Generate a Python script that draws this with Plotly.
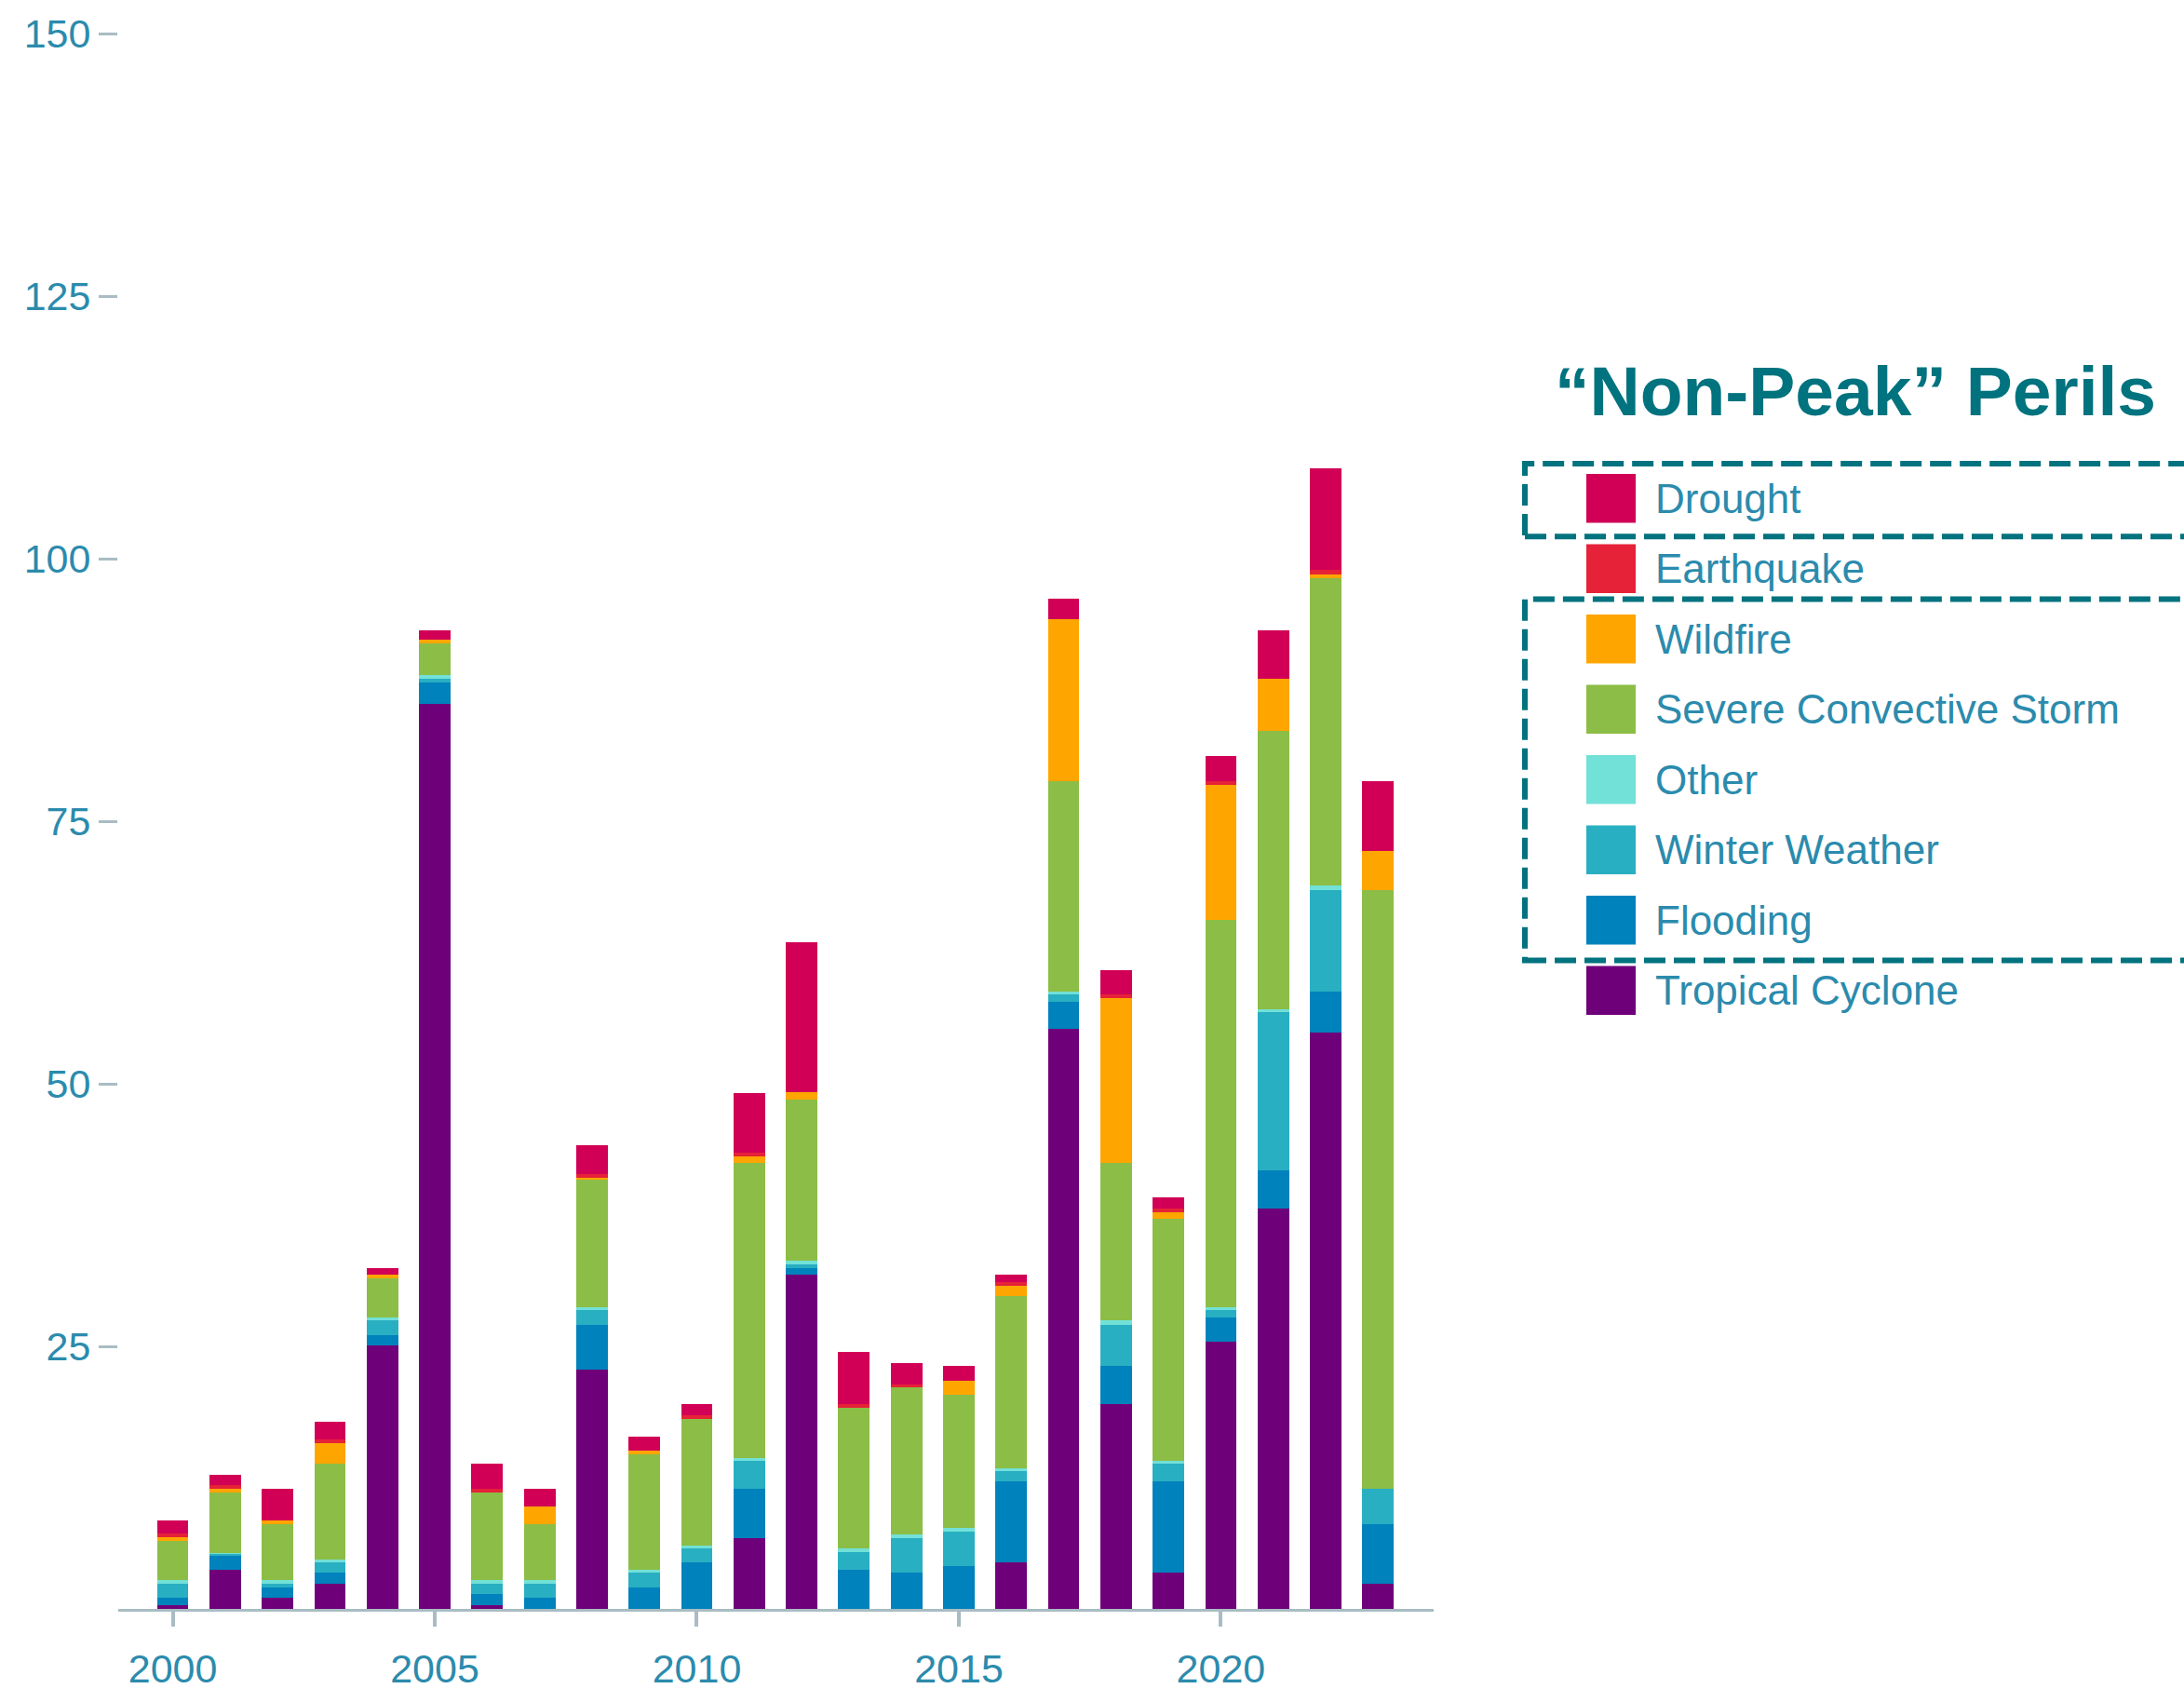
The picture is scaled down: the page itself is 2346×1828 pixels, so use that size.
import plotly.graph_objects as go

years = list(range(2000, 2024))

tropical_cyclone = [0.37, 3.70, 1.06, 2.40, 25.08, 86.2, 0.37, 0.0, 22.8, 0.0, 0.0, 6.75,
                    31.79, 0.0, 0.0, 0.0, 4.39, 55.2, 19.47, 3.46, 25.41, 38.13, 54.84, 2.40]
flooding = [0.69, 1.42, 1.02, 1.06, 1.02, 2.0, 1.06, 1.06, 4.27, 2.03, 4.39, 4.67,
            0.65, 3.70, 3.46, 4.07, 7.72, 2.6, 3.66, 8.66, 2.36, 3.66, 3.93, 5.69]
winter_weather = [1.34, 0.12, 0.33, 0.93, 1.34, 0.35, 0.98, 1.34, 1.42, 1.42, 1.34, 2.68,
                  0.33, 1.67, 3.29, 3.33, 0.98, 0.73, 3.94, 1.67, 0.73, 15.08, 9.71, 3.33]
other = [0.33, 0.12, 0.33, 0.33, 0.33, 0.35, 0.33, 0.33, 0.24, 0.24, 0.33, 0.28,
         0.37, 0.37, 0.37, 0.33, 0.33, 0.29, 0.37, 0.33, 0.24, 0.24, 0.37, 0.0]
severe_convective_storm = [3.74, 5.73, 5.37, 9.07, 3.70, 3.0, 8.37, 5.37, 12.11, 11.06, 11.99, 28.09,
                           15.33, 13.37, 14.02, 12.68, 16.38, 20.0, 15.04, 23.05, 36.82, 26.50, 29.31, 57.06]
wildfire = [0.33, 0.33, 0.33, 1.99, 0.33, 0.35, 0.0, 1.67, 0.24, 0.33, 0.0, 0.61,
            0.69, 0.0, 0.0, 1.34, 0.98, 15.4, 15.68, 0.61, 12.92, 4.92, 0.37, 3.71]
earthquake = [0.36, 0.33, 0.0, 0.33, 0.0, 0.0, 0.33, 0.0, 0.33, 0.0, 0.37, 0.37,
              0.0, 0.37, 0.24, 0.0, 0.33, 0.0, 0.37, 0.37, 0.34, 0.0, 0.37, 0.0]
drought = [1.26, 0.98, 3.00, 1.71, 0.65, 0.96, 2.36, 1.67, 2.72, 1.30, 1.06, 5.69,
           14.35, 5.00, 2.03, 1.38, 0.69, 1.95, 2.28, 1.02, 2.40, 4.67, 9.72, 6.63]

series_names = ["Tropical Cyclone", "Flooding", "Winter Weather", "Other",
                "Severe Convective Storm", "Wildfire", "Earthquake", "Drought"]
series_values = [tropical_cyclone, flooding, winter_weather, other,
                 severe_convective_storm, wildfire, earthquake, drought]
series_colors = ["#6E0079", "#0082BC", "#29AFC2", "#72E1D7",
                 "#8CBD46", "#FFA500", "#E52238", "#D10056"]

y_tickvals = [25, 50, 75, 100, 125, 150]
x_tickvals = [2000, 2005, 2010, 2015, 2020]
legend_title = "“Non-Peak” Perils"

W, H = 2346, 1828
L, R, T, B = 127, 1540, 36, 1746
TEXT = "#2B8BAD"
TEAL = "#00737F"
AXIS = "#A9BCC3"
FONT = "Liberation Sans, Arial, sans-serif"


def px2x(px):
    return (px - L) / (R - L)


def py2y(py):
    return (B - py) / (B - T)


fig = go.Figure()
for name, vals, col in zip(series_names, series_values, series_colors):
    fig.add_trace(go.Bar(x=years, y=vals, name=name, marker=dict(color=col, line=dict(width=0)),
                         width=0.6, showlegend=False))

shapes = []
annotations = []

# custom legend (top to bottom)
legend_order = list(zip(series_names, series_colors))[::-1]
row0, step = 540.5, 76.3
for i, (name, col) in enumerate(legend_order):
    cy = row0 + i * step
    shapes.append(dict(type="rect", xref="paper", yref="paper",
                       x0=px2x(1704), x1=px2x(1757), y0=py2y(cy + 26.5), y1=py2y(cy - 26.5),
                       fillcolor=col, line=dict(width=0)))
    annotations.append(dict(text=name, xref="paper", yref="paper", x=px2x(1776), y=py2y(cy),
                            xanchor="left", yanchor="middle", showarrow=False,
                            font=dict(family=FONT, size=44, color=TEXT)))

annotations.append(dict(text="<b>" + legend_title + "</b>", xref="paper", yref="paper",
                        x=px2x(1668), y=py2y(424), xanchor="left", yanchor="middle",
                        showarrow=False, font=dict(family=FONT, size=75, color=TEAL)))

for (top, bot) in [(503, 582), (650, 1042)]:
    shapes.append(dict(type="rect", xref="paper", yref="paper",
                       x0=px2x(1638), x1=px2x(2420), y0=py2y(bot), y1=py2y(top),
                       fillcolor="rgba(0,0,0,0)",
                       line=dict(color=TEAL, width=6, dash="23px,9px")))

fig.update_layout(
    barmode="stack",
    width=W, height=H, autosize=False,
    margin=dict(l=L, r=W - R, t=T, b=H - B, pad=0),
    paper_bgcolor="white", plot_bgcolor="white",
    font=dict(family=FONT, size=42, color=TEXT),
    shapes=shapes, annotations=annotations,
    showlegend=False,
)
fig.update_xaxes(range=[1998.96, 2024.06], tickvals=x_tickvals, ticks="outside", ticklen=16,
                 tickwidth=4, tickcolor=AXIS, showline=True, linecolor=AXIS, linewidth=3,
                 showgrid=False, zeroline=False, ticklabelstandoff=8,
                 tickfont=dict(size=43, color=TEXT))
fig.update_yaxes(range=[0, 150], tickvals=y_tickvals, ticks="outside", ticklen=20,
                 tickwidth=3, tickcolor=AXIS, showline=False, showgrid=False, zeroline=False,
                 tickfont=dict(size=43, color=TEXT))

fig.write_html("out.html")
